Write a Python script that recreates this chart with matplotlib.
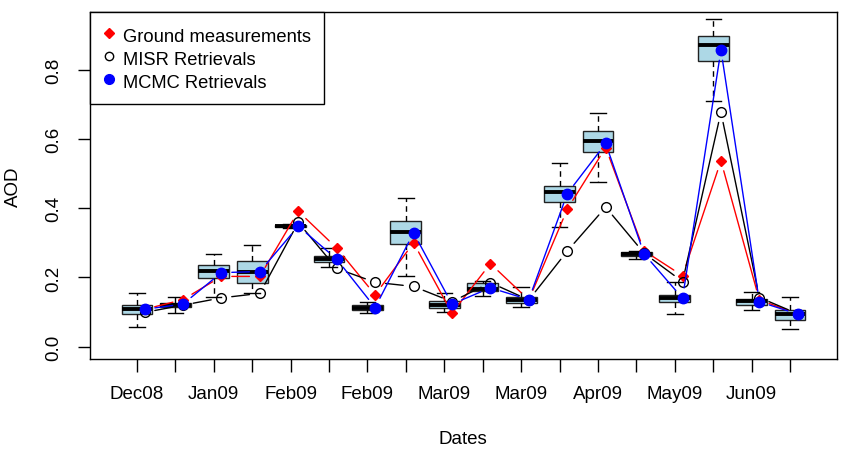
import numpy as np
import matplotlib
matplotlib.use("Agg")
import matplotlib.pyplot as plt
from matplotlib.lines import Line2D

plt.rcParams['font.family'] = ['Liberation Sans', 'DejaVu Sans']

# box statistics per date (lower whisker, Q1, median, Q3, upper whisker)
whislo = [0.057, 0.097, 0.144, 0.155, 0.342, 0.229, 0.096, 0.205, 0.101,
          0.147, 0.114, 0.347, 0.475, 0.253, 0.094, 0.710, 0.106, 0.052]
q1 = [0.094, 0.116, 0.198, 0.185, 0.345, 0.244, 0.106, 0.297, 0.113,
      0.160, 0.125, 0.419, 0.563, 0.261, 0.128, 0.824, 0.120, 0.078]
med = [0.109, 0.121, 0.218, 0.215, 0.349, 0.253, 0.111, 0.330, 0.120,
       0.167, 0.135, 0.446, 0.595, 0.268, 0.140, 0.871, 0.133, 0.094]
q3 = [0.121, 0.127, 0.237, 0.248, 0.352, 0.261, 0.121, 0.362, 0.131,
      0.183, 0.144, 0.465, 0.622, 0.274, 0.150, 0.898, 0.138, 0.106]
whishi = [0.155, 0.144, 0.267, 0.293, 0.354, 0.284, 0.128, 0.429, 0.155,
          0.191, 0.171, 0.531, 0.675, 0.277, 0.186, 0.946, 0.157, 0.144]

ground = [0.108, 0.136, 0.203, 0.203, 0.391, 0.285, 0.150, 0.300, 0.097,
          0.240, 0.135, 0.397, 0.575, 0.277, 0.205, 0.537, 0.135, 0.095]
misr = [0.099, 0.120, 0.141, 0.154, 0.359, 0.226, 0.186, 0.174, 0.130,
        0.185, 0.135, 0.276, 0.403, 0.270, 0.188, 0.677, 0.142, 0.095]
mcmc = [0.108, 0.123, 0.214, 0.217, 0.348, 0.253, 0.113, 0.329, 0.123,
        0.170, 0.136, 0.442, 0.587, 0.268, 0.140, 0.857, 0.130, 0.094]

date_labels = ["Dec08", "", "Jan09", "", "Feb09", "", "Feb09", "", "Mar09", "",
               "Mar09", "", "Apr09", "", "May09", "", "Jun09", ""]

n = len(med)
pos = np.arange(1, n + 1)
xp = pos + 0.2

fig = plt.figure(figsize=(8.55, 4.56), dpi=100)
ax = fig.add_axes([90 / 855, 1 - 360 / 456, 747 / 855, 347 / 456])

stats = [dict(whislo=whislo[i], q1=q1[i], med=med[i], q3=q3[i], whishi=whishi[i], fliers=[])
         for i in range(n)]
ax.bxp(stats, positions=pos, widths=0.8, capwidths=0.4, patch_artist=True,
       boxprops=dict(facecolor='#ADD8E6', edgecolor='#222222', linewidth=1.0),
       medianprops=dict(color='black', linewidth=2.8, solid_capstyle='butt'),
       whiskerprops=dict(color='black', linewidth=1.0, linestyle=(0, (4, 3))),
       capprops=dict(color='black', linewidth=1.0),
       manage_ticks=False)


def type_b(x, y, color, marker, ms, mfc, z):
    # R type="b": points joined by lines that stop short of each point
    for i in range(len(x) - 1):
        ax.annotate('', xy=(x[i + 1], y[i + 1]), xytext=(x[i], y[i]),
                    arrowprops=dict(arrowstyle='-', color=color, lw=1.0,
                                    shrinkA=7.5, shrinkB=7.5), zorder=z)
    ax.plot(x, y, linestyle='none', marker=marker, ms=ms, mfc=mfc,
            mec=color, mew=1.0, zorder=z + 0.5)


type_b(xp, ground, 'red', 'D', 5, 'red', 4)
type_b(xp, misr, 'black', 'o', 7, 'none', 5)
type_b(xp, mcmc, 'blue', 'o', 7.5, 'blue', 6)

ax.set_xlim(-0.22, 19.22)
ax.set_ylim(-0.0355, 0.9666)
ax.set_xticks(pos)
ax.set_xticklabels(date_labels, fontsize=13.5)
ax.set_yticks([0.0, 0.2, 0.4, 0.6, 0.8])
ax.set_yticklabels(["0.0", "0.2", "0.4", "0.6", "0.8"], fontsize=13.5,
                   rotation=90, va='center')
ax.tick_params(axis='both', direction='out', length=9, width=1.0)
ax.tick_params(axis='x', pad=10)
ax.tick_params(axis='y', pad=11)
for s in ax.spines.values():
    s.set_linewidth(1.0)

fig.text(13 / 855, 1 - 187 / 456, "AOD", rotation=90, fontsize=13.5,
         ha='center', va='center')
fig.text(463 / 855, 1 - 440 / 456, "Dates", fontsize=13.5, ha='center', va='center')

handles = [
    Line2D([], [], linestyle='none', marker='D', ms=5, color='red', mec='red'),
    Line2D([], [], linestyle='none', marker='o', ms=6, mfc='none', mec='black'),
    Line2D([], [], linestyle='none', marker='o', ms=7, color='blue'),
]
leg = ax.legend(handles, ["Ground measurements", "MISR Retrievals", "MCMC Retrievals"],
                loc='upper left', borderaxespad=0, fancybox=False, framealpha=1,
                edgecolor='black', fontsize=13.2, handlelength=0.7,
                handleheight=1.3, handletextpad=0.4, labelspacing=0.15,
                borderpad=0.7)
leg.get_frame().set_linewidth(1.0)
leg.set_zorder(10)

fig.savefig("out.png", dpi=100)
